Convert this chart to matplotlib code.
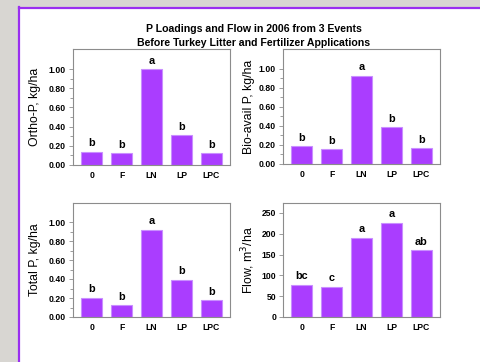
import matplotlib
matplotlib.use("Agg")
import matplotlib.pyplot as plt
from matplotlib.ticker import FormatStrFormatter
from matplotlib.patches import Rectangle
from matplotlib.lines import Line2D

plt.rcParams['font.family'] = ['Liberation Sans', 'DejaVu Sans']

# treatments and their mean loadings / flow
treatments = ["0", "F", "LN", "LP", "LPC"]
ortho_p = [0.14, 0.12, 1.00, 0.31, 0.12]
ortho_letters = ["b", "b", "a", "b", "b"]
bio_p = [0.185, 0.157, 0.93, 0.385, 0.167]
bio_letters = ["b", "b", "a", "b", "b"]
total_p = [0.205, 0.123, 0.92, 0.39, 0.175]
total_letters = ["b", "b", "a", "b", "b"]
flow = [78, 73, 191, 227, 160]
flow_letters = ["bc", "c", "a", "a", "ab"]

p_ticks = [0.0, 0.2, 0.4, 0.6, 0.8, 1.0]
p_minor = [0.1, 0.3, 0.5, 0.7, 0.9]
flow_ticks = [0, 50, 100, 150, 200, 250]

W, H = 481, 362
BAR = "#AA3DFF"
EDGE = "#C98FFF"
FRAME = "#8C8C8C"

fig = plt.figure(figsize=(W / 100, H / 100), dpi=100)
fig.patch.set_facecolor("#D8D6D2")

# white slide area with purple rule on the left and top
fig.patches.append(Rectangle((18 / W, 0), 1 - 18 / W, 1 - 7 / H, transform=fig.transFigure,
                             facecolor="white", edgecolor="none", zorder=-5))
fig.add_artist(Line2D([18.5 / W, 18.5 / W], [0, 1 - 7 / H], transform=fig.transFigure,
                      color="#9A2EF0", lw=1.6, zorder=-4))
fig.add_artist(Line2D([18.5 / W, 1], [1 - 7.5 / H, 1 - 7.5 / H], transform=fig.transFigure,
                      color="#9A2EF0", lw=1.6, zorder=-4))

fig.text(254 / W, 1 - 29 / H, "P Loadings and Flow in 2006 from 3 Events",
         ha="center", va="center", fontsize=7.6, fontweight="bold")
fig.text(254 / W, 1 - 43 / H, "Before Turkey Litter and Fertilizer Applications",
         ha="center", va="center", fontsize=7.6, fontweight="bold")


def panel(box, values, letters, ylabel, ymax, ticks, minor, fmt, pad):
    x0, y0, x1, y1 = box
    ax = fig.add_axes([x0 / W, 1 - y1 / H, (x1 - x0) / W, (y1 - y0) / H])
    pos = range(len(treatments))
    ax.bar(pos, values, width=0.69, color=BAR, edgecolor=EDGE, linewidth=0.8, zorder=2)
    for p, v, s in zip(pos, values, letters):
        ax.annotate(s, (p, v), xytext=(0, 2.5), textcoords="offset points",
                    ha="center", va="bottom", fontsize=7.8, fontweight="bold")
    ax.set_xlim(-0.62, 4.62)
    ax.set_ylim(0, ymax)
    ax.set_xticks(list(pos))
    ax.set_xticklabels(treatments)
    ax.set_yticks(ticks)
    if minor:
        ax.set_yticks(minor, minor=True)
    ax.yaxis.set_major_formatter(FormatStrFormatter(fmt))
    ax.tick_params(axis="both", which="major", labelsize=6.2, length=3, width=0.6,
                   color=FRAME, pad=2)
    ax.tick_params(axis="x", length=0, pad=4)
    ax.tick_params(axis="y", which="minor", length=2, width=0.6, color=FRAME)
    for lab in ax.get_xticklabels() + ax.get_yticklabels():
        lab.set_fontweight("bold")
    for sp in ax.spines.values():
        sp.set_color(FRAME)
        sp.set_linewidth(0.8)
    ax.set_ylabel(ylabel, fontsize=8.8, labelpad=pad)
    return ax


panel((73, 49, 230, 165), ortho_p, ortho_letters, "Ortho-P, kg/ha", 1.21, p_ticks, p_minor, "%.2f", 6)
panel((283, 49, 440, 164), bio_p, bio_letters, "Bio-avail P, kg/ha", 1.21, p_ticks, p_minor, "%.2f", 3)
panel((73, 203, 230, 317), total_p, total_letters, "Total P, kg/ha", 1.2, p_ticks, p_minor, "%.2f", 6)
panel((283, 203, 440, 317), flow, flow_letters, "Flow, m$^3$/ha", 274, flow_ticks, None, "%d", 3)

fig.savefig("out.png", dpi=100)
